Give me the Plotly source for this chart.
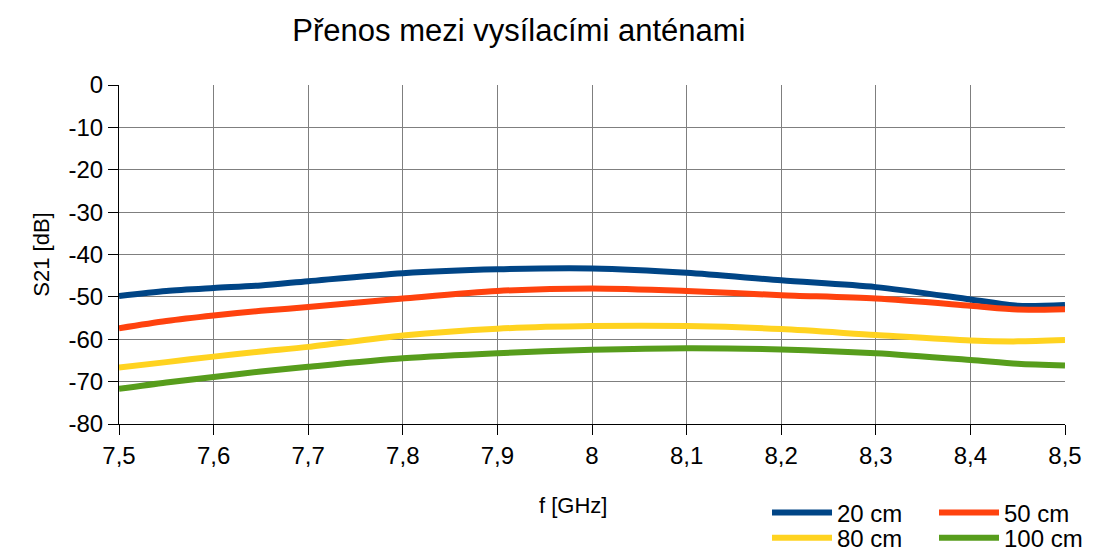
import plotly.graph_objects as go

freq = [7.5, 7.55, 7.6, 7.65, 7.7, 7.8, 7.9, 8.0, 8.1, 8.2, 8.3, 8.4, 8.45, 8.5]
s21_20cm = [-49.8, -48.6, -47.9, -47.3, -46.3, -44.4, -43.5, -43.3, -44.3, -46.1, -47.7, -50.6, -52.1, -51.9]
s21_50cm = [-57.4, -55.7, -54.4, -53.3, -52.4, -50.4, -48.6, -48.0, -48.6, -49.6, -50.4, -52.1, -53.0, -52.9]
s21_80cm = [-66.7, -65.4, -64.1, -62.9, -61.8, -59.1, -57.5, -56.9, -56.9, -57.6, -59.0, -60.3, -60.5, -60.2]
s21_100cm = [-71.7, -70.2, -68.9, -67.6, -66.5, -64.5, -63.3, -62.5, -62.1, -62.4, -63.3, -64.9, -65.8, -66.2]

y_ticks = [0, -10, -20, -30, -40, -50, -60, -70, -80]
y_labels = ["0", "-10", "-20", "-30", "-40", "-50", "-60", "-70", "-80"]

series = [
    ("20 cm", s21_20cm, "#004586", "legend"),
    ("50 cm", s21_50cm, "#ff420e", "legend"),
    ("80 cm", s21_80cm, "#ffd320", "legend2"),
    ("100 cm", s21_100cm, "#579d1c", "legend2"),
]

fig = go.Figure()
for name, vals, col, leg in series:
    fig.add_trace(go.Scatter(x=freq, y=vals, name=name, mode="lines",
                             line=dict(color=col, width=6, shape="spline", smoothing=0.8),
                             legend=leg))

font = "Liberation Sans, Arial, sans-serif"
leg_common = dict(orientation="h", xanchor="left", yanchor="middle",
                  font=dict(size=24, color="black", family=font),
                  entrywidth=92, entrywidthmode="pixels",
                  bgcolor="rgba(0,0,0,0)", itemwidth=60)

# page has an 8px body margin, so the figure is a bit smaller and shifted
fig.update_layout(
    width=1094, height=544,
    margin=dict(l=111, r=37, t=77, b=128, autoexpand=False),
    plot_bgcolor="white", paper_bgcolor="white",
    font=dict(family=font, color="black"),
    separators=", ",
    showlegend=True,
    title=dict(text="Přenos mezi vysílacími anténami", x=0.467, xanchor="center",
               y=0.96, yanchor="middle", font=dict(size=31, family=font)),
    xaxis=dict(range=[7.5, 8.5], dtick=0.1, tick0=7.5, showgrid=True, gridcolor="#7f7f7f",
               gridwidth=1, showline=True, linecolor="black", linewidth=1,
               ticks="outside", ticklen=10, tickcolor="black",
               tickfont=dict(size=24), zeroline=False),
    yaxis=dict(range=[-80, 0], tickvals=y_ticks, ticktext=y_labels, showgrid=True,
               gridcolor="#7f7f7f", gridwidth=1, showline=True, linecolor="black",
               linewidth=1, ticks="outside", ticklen=10, tickcolor="black",
               tickfont=dict(size=24), zeroline=False,
               title=dict(text="S21 [dB]", font=dict(size=22), standoff=12)),
    legend=dict(x=0.685, y=-0.262, **leg_common),
    legend2=dict(x=0.685, y=-0.337, **leg_common),
    annotations=[dict(text="f [GHz]", x=0.48, y=-0.239, xref="paper", yref="paper",
                      showarrow=False, font=dict(size=22), xanchor="center", yanchor="middle")],
)

fig.write_html("out.html")
